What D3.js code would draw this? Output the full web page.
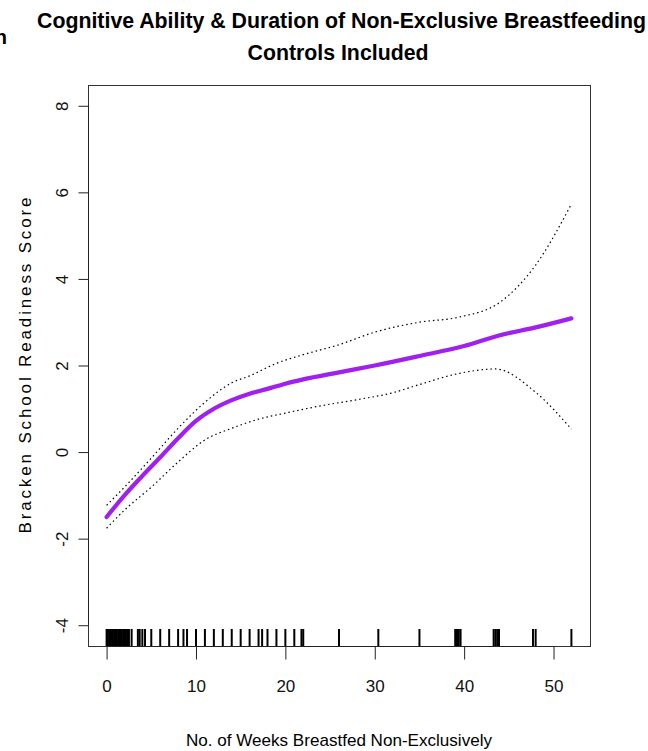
<!DOCTYPE html>
<html><head><meta charset="utf-8">
<script src="https://cdn.jsdelivr.net/npm/d3@7"></script>
<style>body{margin:0;background:#fff}svg{display:block}text{font-family:"Liberation Sans",Arial,sans-serif}</style>
</head><body>
<script>
// Fitted curve (weeks -> score)
const fitWeeks = [0,2,4,6,8,10,12,14,16,18,20,22,26,30,35,40,44,48,52];
const fitScore = [-1.50,-1.00,-0.55,-0.12,0.32,0.72,1.00,1.20,1.35,1.46,1.58,1.68,1.84,2.00,2.22,2.45,2.70,2.88,3.09];
// Upper confidence band
const upWeeks = [0,2,5,8,11,14,16,19,22,26,30,35,39.5,44,48,52];
const upScore = [-1.23,-0.81,-0.14,0.55,1.15,1.60,1.76,2.05,2.25,2.48,2.77,3.00,3.12,3.46,4.32,5.73];
// Lower confidence band
const loWeeks = [0,2,5,8,11,14,17,20,24,28,32,35,39.5,43.5,48,52];
const loScore = [-1.76,-1.34,-0.81,-0.23,0.28,0.55,0.76,0.90,1.07,1.21,1.37,1.56,1.82,1.92,1.38,0.53];
// Rug of observed durations
const rugWeeks = [0,0.14,0.29,0.43,0.57,0.71,0.86,1,1.14,1.29,1.43,1.57,1.71,1.86,2,2.14,2.29,2.5,2.8,3.5,3.7,4,4.3,5,6,7,8,8.6,9,10,11,12,13,14,15,16,17,17.4,18,19,20,21,21.8,22,26,30.4,35,39,39.2,39.4,39.6,43.3,43.5,43.7,43.9,47.7,48,52];
const xTicks = [0,10,20,30,40,50];
const yTicks = [-4,-2,0,2,4,6,8];
const titleLines = ["Cognitive Ability & Duration of Non-Exclusive Breastfeeding","Controls Included"];
const xLabel = "No. of Weeks Breastfed Non-Exclusively";
const yLabel = "Bracken School Readiness Score";

const W=648,H=751;
const L=88,R=590,T=85,B=646;
const svg=d3.select("body").append("svg").attr("width",W).attr("height",H);
const x=d3.scaleLinear().domain([-2.08,54.08]).range([L,R]);
const y=d3.scaleLinear().domain([-4.48,8.48]).range([B,T]);

// title
svg.append("text").attr("x",37).attr("y",28).attr("font-size",22).attr("font-weight","bold")
  .attr("textLength",609).attr("lengthAdjust","spacingAndGlyphs").text(titleLines[0]);
svg.append("text").attr("x",338).attr("y",60).attr("text-anchor","middle").attr("font-size",22).attr("font-weight","bold")
  .attr("textLength",181).attr("lengthAdjust","spacingAndGlyphs").text(titleLines[1]);
svg.append("text").attr("x",7).attr("y",44).attr("text-anchor","end").attr("font-size",20).attr("font-weight","bold").text("h");

// box
svg.append("rect").attr("x",L+0.5).attr("y",T+0.5).attr("width",R-L).attr("height",B-T)
  .attr("fill","none").attr("stroke","#333").attr("stroke-width",1);

// axes
const gx=svg.append("g").attr("transform",`translate(0,${B+0.5})`)
  .call(d3.axisBottom(x).tickValues(xTicks).tickSize(13).tickPadding(20).tickFormat(d3.format("d")));
const gy=svg.append("g").attr("transform",`translate(${L+0.5},0)`)
  .call(d3.axisLeft(y).tickValues(yTicks).tickSize(10).tickFormat(d=>d));
[gx,gy].forEach(g=>{g.select(".domain").remove();g.selectAll("line").attr("stroke","#222");
  g.selectAll("text").attr("font-size",17).attr("fill","#111").attr("font-family","Liberation Sans, Arial, sans-serif");});
gx.append("line").attr("x1",x(0)).attr("x2",x(50)).attr("stroke","#222");
gy.append("line").attr("y1",y(-4)).attr("y2",y(8)).attr("stroke","#222");
gy.selectAll(".tick text").attr("transform","rotate(-90)")
  .attr("x",0).attr("y",-21).attr("dy",0).attr("text-anchor","middle");

// labels
svg.append("text").attr("x",(L+R)/2).attr("y",746).attr("text-anchor","middle").attr("font-size",17)
  .attr("textLength",306).attr("lengthAdjust","spacingAndGlyphs").text(xLabel);
svg.append("text").attr("transform",`translate(31,${(T+B)/2}) rotate(-90)`).attr("text-anchor","middle")
  .attr("font-size",17).attr("textLength",336).attr("lengthAdjust","spacing").text(yLabel);

// rug
svg.append("g").selectAll("line").data(rugWeeks).join("line")
  .attr("x1",d=>x(d)).attr("x2",d=>x(d)).attr("y1",B).attr("y2",B-17)
  .attr("stroke","#000").attr("stroke-width",2);

const mk=(ws,vs)=>ws.map((w,i)=>[w,vs[i]]);
const line=d3.line().x(d=>x(d[0])).y(d=>y(d[1])).curve(d3.curveMonotoneX);
svg.append("path").attr("d",line(mk(upWeeks,upScore))).attr("fill","none").attr("stroke","#000").attr("stroke-width",1.2).attr("stroke-dasharray","1.5,3");
svg.append("path").attr("d",line(mk(loWeeks,loScore))).attr("fill","none").attr("stroke","#000").attr("stroke-width",1.2).attr("stroke-dasharray","1.5,3");
svg.append("path").attr("d",line(mk(fitWeeks,fitScore))).attr("fill","none").attr("stroke","#A020F0").attr("stroke-width",4.2).attr("stroke-linecap","round");
</script>
</body></html>
